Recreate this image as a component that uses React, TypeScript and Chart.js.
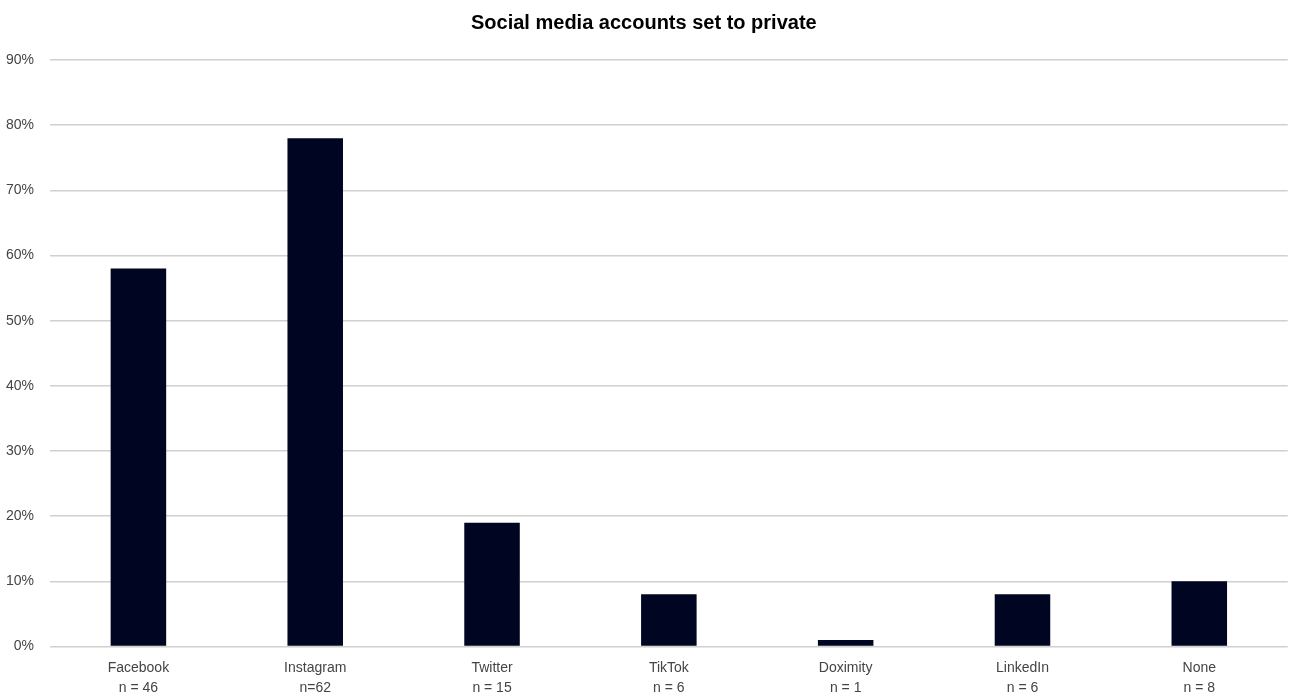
import React, { useEffect, useRef } from "react";
import { Chart, registerables } from "chart.js";

Chart.register(...registerables);

const platforms: string[] = ["Facebook", "Instagram", "Twitter", "TikTok", "Doximity", "LinkedIn", "None"];
const sampleSizes: string[] = ["n = 46", "n=62", "n = 15", "n = 6", "n = 1", "n = 6", "n = 8"];
const privatePercent: number[] = [58, 78, 19, 8, 1, 8, 10];
const chartTitle = "Social media accounts set to private";

export default function App() {
  const canvasRef = useRef<HTMLCanvasElement | null>(null);

  useEffect(() => {
    if (!canvasRef.current) return;
    const labels = platforms.map((p, i) => [p, sampleSizes[i]]);
    const chart = new Chart(canvasRef.current, {
      type: "bar",
      data: {
        labels,
        datasets: [
          {
            data: privatePercent,
            backgroundColor: "#000522",
            borderWidth: 0,
            categoryPercentage: 1,
            barPercentage: 0.314,
          },
        ],
      },
      options: {
        animation: false,
        responsive: true,
        maintainAspectRatio: false,
        layout: { padding: { left: 0, right: 6.3, top: 0, bottom: 0 } },
        plugins: {
          legend: { display: false },
          tooltip: { enabled: false },
          title: {
            display: true,
            text: chartTitle,
            color: "#000000",
            font: { family: "'Liberation Sans', Arial, sans-serif", size: 20, weight: "bold", lineHeight: 1.2 },
            padding: { top: 11, bottom: 25 },
          },
        },
        scales: {
          x: {
            grid: { display: false, drawTicks: false },
            border: { display: false },
            ticks: {
              color: "#444444",
              padding: 12,
              maxRotation: 0,
              autoSkip: false,
              font: { family: "'Liberation Sans', Arial, sans-serif", size: 14, lineHeight: 20 / 14 },
            },
            afterFit: (scale: any) => {
              scale.height = 47.5;
            },
          },
          y: {
            min: 0,
            max: 90,
            grid: { color: "#d0d0d0", lineWidth: 1.5, drawTicks: false },
            border: { display: false },
            ticks: {
              stepSize: 10,
              color: "#444444",
              padding: 16,
              font: { family: "'Liberation Sans', Arial, sans-serif", size: 14 },
              callback: (v: any) => v + "%",
            },
            afterFit: (scale: any) => {
              scale.width = 50;
            },
          },
        },
      },
    });
    return () => chart.destroy();
  }, []);

  return (
    <div style={{ position: "fixed", top: 0, left: 0, width: "1294px", height: "694px", background: "#ffffff" }}>
      <canvas ref={canvasRef} />
    </div>
  );
}
